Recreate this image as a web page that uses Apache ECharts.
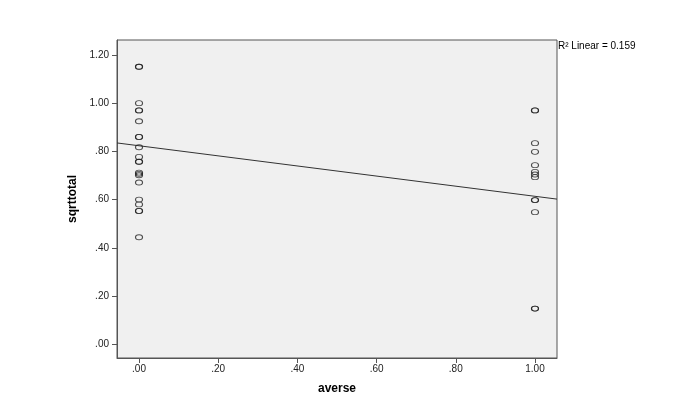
<!DOCTYPE html>
<html><head><meta charset="utf-8">
<script src="https://cdn.jsdelivr.net/npm/echarts@6/dist/echarts.min.js"></script>
<style>html,body{margin:0;padding:0;background:#fff}#c{width:700px;height:407px}</style>
</head><body><div id="c"></div>
<script>
// averse = 0 group
const group0Y = [1.151, 1.151, 1.00, 0.970, 0.970, 0.925, 0.860, 0.860, 0.817, 0.777, 0.757, 0.757, 0.712, 0.707, 0.701, 0.671, 0.600, 0.580, 0.553, 0.553, 0.444];
// averse = 1 group
const group1Y = [0.970, 0.970, 0.834, 0.798, 0.743, 0.715, 0.704, 0.693, 0.598, 0.598, 0.548, 0.148, 0.148];
const groupX = [0, 1];
// fit line endpoints (x, y) at axis extents
const fitX = [-0.0556, 1.0556];
const fitY = [0.835, 0.602];
const xTicks = [0, 0.2, 0.4, 0.6, 0.8, 1.0];
const yTicks = [0, 0.2, 0.4, 0.6, 0.8, 1.0, 1.2];
const rSquared = '0.159';

const pts = [];
group0Y.forEach(v => pts.push([groupX[0], v]));
group1Y.forEach(v => pts.push([groupX[1], v]));

const fmt = v => { let s = v.toFixed(2); return s.startsWith('0') ? s.slice(1) : s; };
const font = 'Liberation Sans, Arial, sans-serif';

const chart = echarts.init(document.getElementById('c'), null, {renderer: 'canvas'});
chart.setOption({
  animation: false,
  grid: {left: 117, right: 143, top: 40, bottom: 49, show: true, backgroundColor: '#f0f0f0', borderColor: '#555', borderWidth: 1},
  xAxis: {
    type: 'value', min: fitX[0], max: fitX[1],
    name: 'averse', nameLocation: 'middle', nameGap: 25,
    nameTextStyle: {fontFamily: font, fontWeight: 'bold', fontSize: 12, color: '#000'},
    axisLine: {show: true, onZero: false, lineStyle: {color: '#555'}},
    axisTick: {show: true, length: 5, customValues: xTicks, lineStyle: {color: '#555'}},
    axisLabel: {customValues: xTicks, formatter: fmt, fontFamily: font, fontSize: 10, color: '#222', margin: 6},
    splitLine: {show: false}
  },
  yAxis: {
    type: 'value', min: -0.057, max: 1.262,
    name: 'sqrttotal', nameLocation: 'middle', nameGap: 37, nameRotate: 90,
    nameTextStyle: {fontFamily: font, fontWeight: 'bold', fontSize: 12, color: '#000'},
    axisLine: {show: true, onZero: false, lineStyle: {color: '#555'}},
    axisTick: {show: true, length: 5, customValues: yTicks, lineStyle: {color: '#555'}},
    axisLabel: {customValues: yTicks, formatter: fmt, fontFamily: font, fontSize: 10, color: '#222', margin: 8},
    splitLine: {show: false}
  },
  graphic: [{
    type: 'text', left: 558, top: 41,
    style: {text: 'R\u00b2 Linear = ' + rSquared, fontFamily: font, fontSize: 10, fill: '#000'}
  }],
  series: [
    {
      type: 'line', data: [[fitX[0], fitY[0]], [fitX[1], fitY[1]]],
      symbol: 'none', lineStyle: {color: '#333', width: 1}, z: 1, silent: true
    },
    {
      type: 'scatter', data: pts, symbol: 'circle', symbolSize: [7, 5],
      itemStyle: {color: 'rgba(0,0,0,0)', borderColor: '#222', borderWidth: 1}, z: 2
    }
  ]
});
</script></body></html>
